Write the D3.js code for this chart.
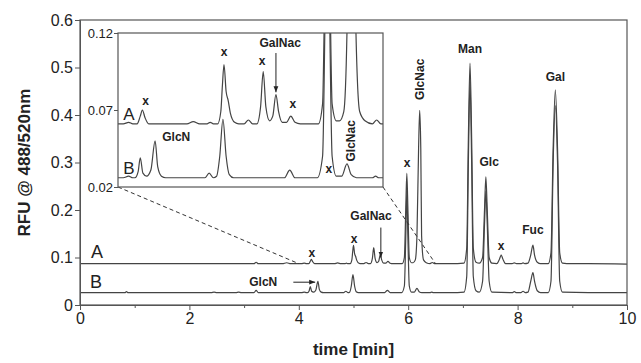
<!DOCTYPE html>
<html>
<head>
<meta charset="utf-8">
<script src="https://cdn.jsdelivr.net/npm/d3@7"></script>
<style>
  body { margin: 0; background: #fff; }
  text { font-family: "Liberation Sans", Arial, sans-serif; fill: #222; }
  .lbl { font-weight: bold; font-size: 12px; }
</style>
</head>
<body>
<div class="view1"></div>
<script>
// Electropherogram traces as [time (min), RFU]
const traceA = [
  [0, 0.087], [2.9, 0.087], [3.18, 0.087], [3.22, 0.090], [3.26, 0.087], [3.7, 0.087], [3.78, 0.089], [3.85, 0.087],
  [4.05, 0.087], [4.10, 0.088], [4.14, 0.087], [4.18, 0.087], [4.21, 0.092], [4.23, 0.096], [4.255, 0.091], [4.29, 0.087],
  [4.65, 0.087], [4.71, 0.0885], [4.77, 0.087], [4.84, 0.087], [4.87, 0.088], [4.9, 0.087],
  [4.94, 0.087], [4.97, 0.095], [4.985, 0.112], [5.0, 0.1255], [5.02, 0.108], [5.04, 0.102], [5.06, 0.094], [5.1, 0.088], [5.14, 0.087],
  [5.19, 0.087], [5.23, 0.0895], [5.27, 0.087],
  [5.31, 0.087], [5.345, 0.098], [5.37, 0.121], [5.395, 0.098], [5.43, 0.089],
  [5.46, 0.092], [5.49, 0.106], [5.515, 0.095], [5.55, 0.088],
  [5.59, 0.088], [5.63, 0.092], [5.67, 0.088], [5.72, 0.087],
  [5.89, 0.087], [5.93, 0.1], [5.955, 0.2], [5.975, 0.277], [5.995, 0.2], [6.02, 0.1], [6.06, 0.089],
  [6.09, 0.089], [6.13, 0.095], [6.16, 0.146], [6.19, 0.33], [6.21, 0.41], [6.23, 0.33], [6.245, 0.146], [6.28, 0.095], [6.33, 0.089],
  [6.4, 0.087], [6.44, 0.0895], [6.48, 0.087],
  [6.9, 0.087], [7.02, 0.088], [7.07, 0.12], [7.1, 0.35], [7.13, 0.509], [7.16, 0.35], [7.19, 0.12], [7.24, 0.09],
  [7.3, 0.088], [7.36, 0.1], [7.395, 0.2], [7.42, 0.27], [7.445, 0.2], [7.48, 0.1], [7.53, 0.088],
  [7.62, 0.087], [7.67, 0.097], [7.7, 0.105], [7.73, 0.097], [7.78, 0.087],
  [7.9, 0.087], [7.94, 0.0885], [7.98, 0.087], [8.07, 0.087], [8.1, 0.0885], [8.13, 0.087],
  [8.19, 0.088], [8.24, 0.105], [8.28, 0.126], [8.31, 0.105], [8.36, 0.09], [8.42, 0.087],
  [8.56, 0.087], [8.61, 0.11], [8.65, 0.33], [8.69, 0.453], [8.73, 0.33], [8.77, 0.11], [8.82, 0.088],
  [8.9, 0.087], [9.3, 0.087], [10, 0.086]
];

const traceB = [
  [0, 0.026], [0.82, 0.026], [0.85, 0.028], [0.88, 0.026], [2.4, 0.026], [2.45, 0.027], [2.5, 0.026],
  [2.85, 0.026], [2.9, 0.027], [2.95, 0.026], [3.18, 0.026], [3.22, 0.031], [3.26, 0.026],
  [4.05, 0.026], [4.1, 0.027], [4.14, 0.026],
  [4.16, 0.026], [4.19, 0.030], [4.21, 0.039], [4.235, 0.029], [4.27, 0.027], [4.31, 0.031], [4.35, 0.050], [4.375, 0.033], [4.41, 0.027], [4.45, 0.026],
  [4.82, 0.026], [4.86, 0.029], [4.9, 0.026],
  [4.93, 0.027], [4.96, 0.04], [4.99, 0.064], [5.02, 0.04], [5.05, 0.028], [5.09, 0.026],
  [5.57, 0.026], [5.62, 0.031], [5.67, 0.026],
  [5.88, 0.026], [5.93, 0.04], [5.955, 0.14], [5.975, 0.24], [5.995, 0.14], [6.02, 0.04], [6.06, 0.027],
  [6.11, 0.027], [6.16, 0.035], [6.2, 0.028], [6.25, 0.026],
  [6.4, 0.026], [6.43, 0.027], [6.46, 0.026],
  [6.9, 0.026], [7.02, 0.027], [7.07, 0.06], [7.1, 0.3], [7.13, 0.47], [7.16, 0.3], [7.19, 0.06], [7.24, 0.03],
  [7.3, 0.027], [7.36, 0.05], [7.395, 0.17], [7.42, 0.24], [7.445, 0.17], [7.48, 0.05], [7.53, 0.027],
  [7.9, 0.026], [7.94, 0.028], [7.98, 0.026], [8.06, 0.026], [8.1, 0.029], [8.14, 0.026],
  [8.19, 0.027], [8.24, 0.05], [8.28, 0.068], [8.31, 0.05], [8.36, 0.03], [8.42, 0.026],
  [8.56, 0.026], [8.61, 0.05], [8.65, 0.3], [8.69, 0.42], [8.73, 0.3], [8.77, 0.05], [8.82, 0.027],
  [9.3, 0.026], [10, 0.026]
];

// axis ticks
const xTicks = [0, 2, 4, 6, 8, 10];
const xMinor = [1, 3, 5, 7, 9];
const yTicks = [0, 0.1, 0.2, 0.3, 0.4, 0.5, 0.6];
const insetYTicks = [0.02, 0.07, 0.12];

// inset window (zoomed region) and shift applied to trace A inside it
const insetX = [4, 6.5];
const insetY = [0.02, 0.12];
const insetShiftA = -0.026;

// peak annotations: [label, time, value]
const mainLabels = [
  ["x", 4.24, 0.102], ["x", 5.01, 0.13], ["x", 5.98, 0.29],
  ["Man", 7.13, 0.531], ["Glc", 7.48, 0.292], ["x", 7.7, 0.116],
  ["Fuc", 8.28, 0.149], ["Gal", 8.69, 0.472]
];
const insetLabels = [
  ["x", 4.26, 0.073], ["x", 5.0, 0.105], ["x", 5.36, 0.099], ["x", 5.65, 0.071],
  ["GlcN", 4.55, 0.05], ["x", 5.99, 0.029]
];

// ---- layout ----
let margin = {top: 20, right: 14, bottom: 58, left: 80};
let width = 641 - margin.left - margin.right;
let height = 363 - margin.top - margin.bottom;

let svg = d3.select(".view1").append("svg")
  .attr("width", 641)
  .attr("height", 363);

let defs = svg.append("defs");
defs.append("marker")
  .attr("id", "arrow")
  .attr("viewBox", "0 0 10 10")
  .attr("refX", 10).attr("refY", 5)
  .attr("markerWidth", 6).attr("markerHeight", 6)
  .attr("orient", "auto")
  .append("path")
  .attr("d", "M0,1L10,5L0,9Z")
  .attr("fill", "#222");

let g = svg.append("g")
  .attr("transform", "translate(" + margin.left + "," + margin.top + ")");

let x = d3.scaleLinear().domain([0, 10]).range([0, width]);
let y = d3.scaleLinear().domain([0, 0.6]).range([height, 0]);

let line = d3.line()
  .x(d => x(d[0]))
  .y(d => y(d[1]))
  .curve(d3.curveMonotoneX);

// traces
g.append("path").datum(traceA).attr("d", line)
  .attr("fill", "none").attr("stroke", "#444").attr("stroke-width", 1.2);
g.append("path").datum(traceB).attr("d", line)
  .attr("fill", "none").attr("stroke", "#444").attr("stroke-width", 1.2);

// frame
g.append("rect").attr("width", width).attr("height", height)
  .attr("fill", "none").attr("stroke", "#555").attr("stroke-width", 1.2);

// axes
let xAxis = g.append("g").attr("transform", "translate(0," + height + ")")
  .call(d3.axisBottom(x).tickValues(xTicks).tickSize(5).tickPadding(3).tickFormat(d3.format("d")));
g.append("g").attr("transform", "translate(0," + height + ")")
  .call(d3.axisBottom(x).tickValues(xMinor).tickSize(3).tickFormat(""))
  .select(".domain").remove();
let yAxis = g.append("g")
  .call(d3.axisLeft(y).tickValues(yTicks).tickSize(5).tickPadding(2).tickFormat(d => d === 0 ? "0" : d3.format(".1f")(d)));

g.selectAll(".tick text").style("font-size", "16px").attr("fill", "#222")
  .style("font-family", "'Liberation Sans', Arial, sans-serif");
g.selectAll(".tick line, .domain").attr("stroke", "#555");

// axis titles
svg.append("text")
  .attr("transform", "translate(30," + (margin.top + height / 2) + ") rotate(-90)")
  .attr("text-anchor", "middle")
  .style("font-size", "17px").style("font-weight", "bold")
  .text("RFU @ 488/520nm");
svg.append("text")
  .attr("x", margin.left + width / 2).attr("y", 355)
  .attr("text-anchor", "middle")
  .style("font-size", "17px").style("font-weight", "bold")
  .text("time [min]");

// trace names
g.append("text").attr("x", 11).attr("y", y(0.087) - 6).style("font-size", "18px").text("A");
g.append("text").attr("x", 10).attr("y", y(0.026) - 5).style("font-size", "18px").text("B");

// peak labels on the main plot
g.selectAll(".mainLbl").data(mainLabels).enter().append("text")
  .attr("class", "lbl")
  .attr("x", d => x(d[1])).attr("y", d => y(d[2]))
  .attr("text-anchor", "middle")
  .text(d => d[0]);

// rotated GlcNac label
g.append("text").attr("class", "lbl")
  .attr("transform", "translate(" + (x(6.21) + 4) + "," + y(0.475) + ") rotate(-90)")
  .attr("text-anchor", "middle")
  .text("GlcNac");

// GalNac label with arrow
g.append("text").attr("class", "lbl")
  .attr("x", x(5.32)).attr("y", y(0.178)).attr("text-anchor", "middle").text("GalNac");
g.append("line")
  .attr("x1", x(5.5)).attr("x2", x(5.5))
  .attr("y1", y(0.163)).attr("y2", y(0.1))
  .attr("stroke", "#222").attr("marker-end", "url(#arrow)");

// GlcN label with arrow
g.append("text").attr("class", "lbl")
  .attr("x", x(3.35)).attr("y", y(0.048) + 4).attr("text-anchor", "middle").text("GlcN");
g.append("line")
  .attr("x1", x(3.9)).attr("x2", x(4.3))
  .attr("y1", y(0.048)).attr("y2", y(0.048))
  .attr("stroke", "#222").attr("marker-end", "url(#arrow)");

// ---- inset ----
let inset = {left: 118 - margin.left, top: 33 - margin.top, right: 383 - margin.left, bottom: 187 - margin.top};
let ix = d3.scaleLinear().domain(insetX).range([inset.left, inset.right]);
let iy = d3.scaleLinear().domain(insetY).range([inset.bottom, inset.top]);

// dashed connectors from inset corners to the zoomed window
g.append("line")
  .attr("x1", inset.left).attr("y1", inset.bottom)
  .attr("x2", x(insetX[0])).attr("y2", y(0.087))
  .attr("stroke", "#333").attr("stroke-dasharray", "4,3");
g.append("line")
  .attr("x1", inset.right).attr("y1", inset.bottom)
  .attr("x2", x(insetX[1])).attr("y2", y(0.087))
  .attr("stroke", "#333").attr("stroke-dasharray", "4,3");

defs.append("clipPath").attr("id", "insetClip")
  .append("rect")
  .attr("x", inset.left + margin.left).attr("y", inset.top + margin.top)
  .attr("width", inset.right - inset.left).attr("height", inset.bottom - inset.top);

let ig = g.append("g");
ig.append("rect")
  .attr("x", inset.left).attr("y", inset.top)
  .attr("width", inset.right - inset.left).attr("height", inset.bottom - inset.top)
  .attr("fill", "#fff");

let iline = d3.line()
  .x(d => ix(d[0]))
  .y(d => iy(d[1]))
  .curve(d3.curveMonotoneX);

let clipped = svg.append("g").attr("clip-path", "url(#insetClip)")
  .append("g").attr("transform", "translate(" + margin.left + "," + margin.top + ")");
clipped.append("path").datum(traceA.map(d => [d[0], d[1] + insetShiftA])).attr("d", iline)
  .attr("fill", "none").attr("stroke", "#444").attr("stroke-width", 1.2);
clipped.append("path").datum(traceB).attr("d", iline)
  .attr("fill", "none").attr("stroke", "#444").attr("stroke-width", 1.2);

let ibox = svg.append("g").attr("transform", "translate(" + margin.left + "," + margin.top + ")");
ibox.append("rect")
  .attr("x", inset.left).attr("y", inset.top)
  .attr("width", inset.right - inset.left).attr("height", inset.bottom - inset.top)
  .attr("fill", "none").attr("stroke", "#555").attr("stroke-width", 1.2);

let iAxis = ibox.append("g").attr("transform", "translate(" + inset.left + ",0)")
  .call(d3.axisLeft(iy).tickValues(insetYTicks).tickSize(4).tickPadding(1).tickFormat(d3.format(".2f")));
iAxis.select(".domain").remove();
iAxis.selectAll("text").style("font-size", "13px").attr("fill", "#222")
  .style("font-family", "'Liberation Sans', Arial, sans-serif");
iAxis.selectAll("line").attr("stroke", "#555");

ibox.append("text").attr("x", ix(4.05)).attr("y", iy(0.0605) - 5).style("font-size", "17px").text("A");
ibox.append("text").attr("x", ix(4.05)).attr("y", iy(0.0245) - 6).style("font-size", "17px").text("B");

ibox.selectAll(".iLbl").data(insetLabels).enter().append("text")
  .attr("class", "lbl")
  .attr("x", d => ix(d[1])).attr("y", d => iy(d[2]))
  .attr("text-anchor", "middle")
  .text(d => d[0]);

ibox.append("text").attr("class", "lbl")
  .attr("x", ix(5.53)).attr("y", iy(0.111)).attr("text-anchor", "middle").text("GalNac");
ibox.append("line")
  .attr("x1", ix(5.49)).attr("x2", ix(5.49))
  .attr("y1", iy(0.107)).attr("y2", iy(0.0815))
  .attr("stroke", "#222").attr("marker-end", "url(#arrow)");
ibox.append("text").attr("class", "lbl")
  .attr("transform", "translate(" + (ix(6.2) + 4) + "," + iy(0.05) + ") rotate(-90)")
  .attr("text-anchor", "middle")
  .text("GlcNac");
</script>
</body>
</html>
